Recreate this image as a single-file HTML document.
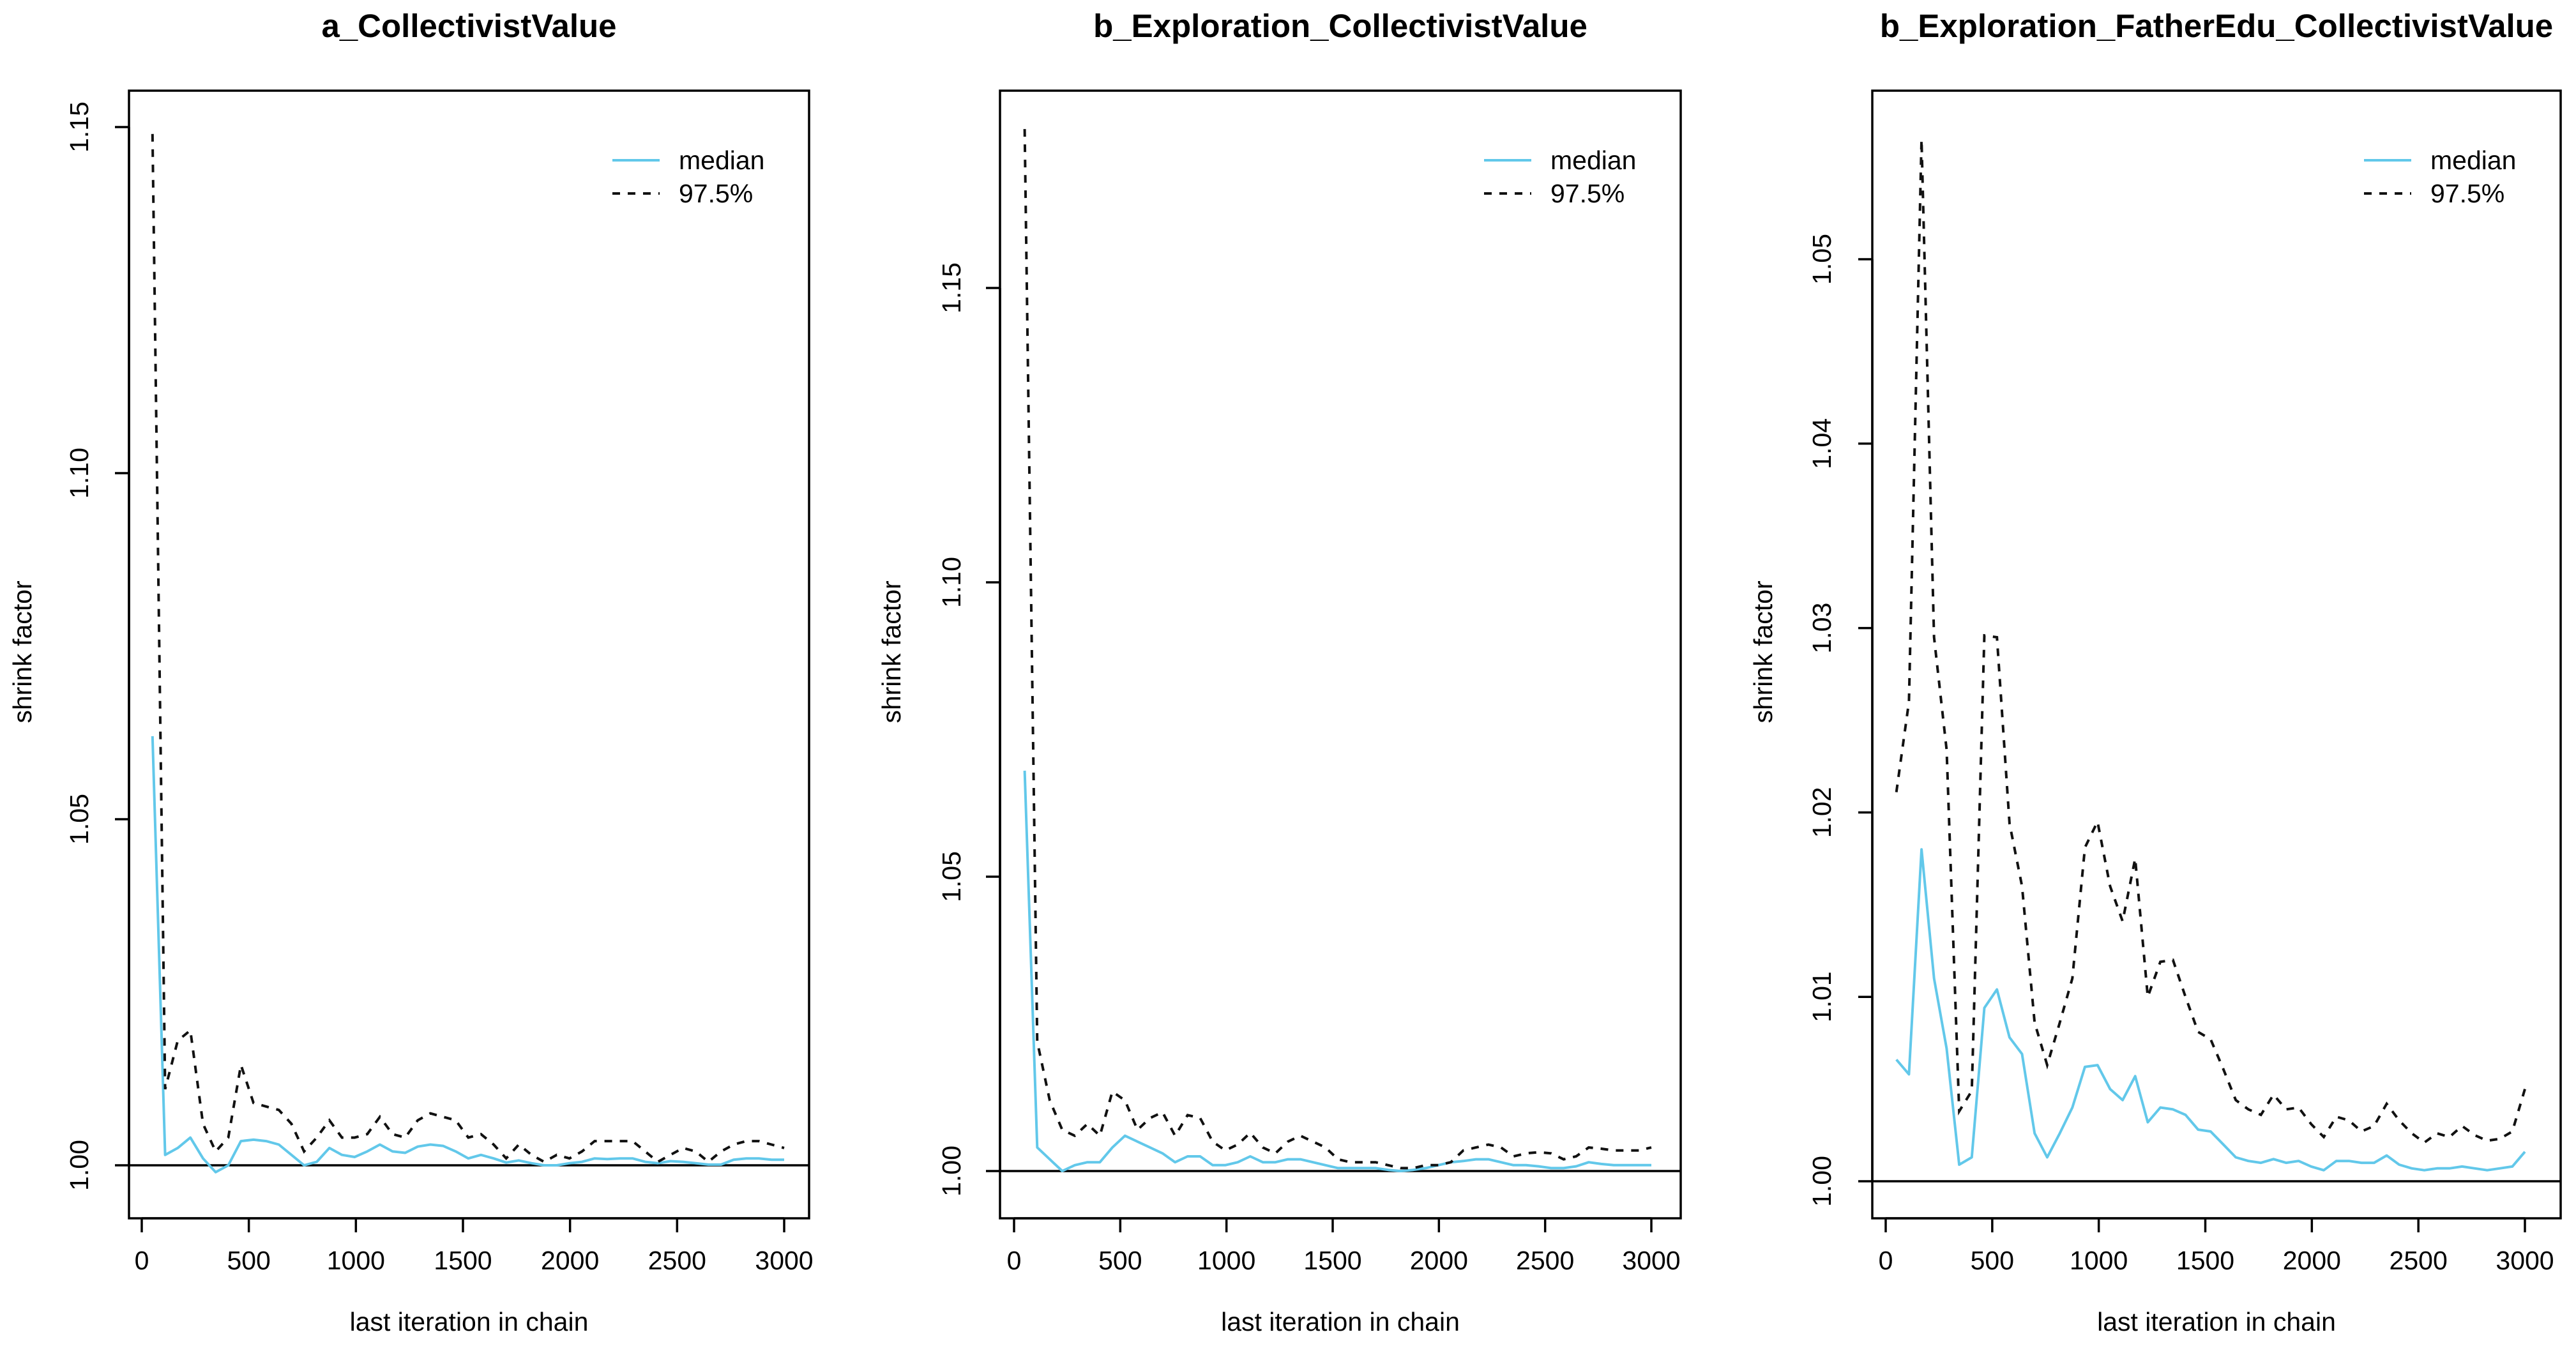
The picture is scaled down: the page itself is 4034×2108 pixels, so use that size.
<!DOCTYPE html>
<html><head><meta charset="utf-8"><style>
html,body{margin:0;padding:0;background:#fff;}
svg{display:block;font-family:"Liberation Sans",Arial,sans-serif;}
</style></head><body>
<svg id="fig" width="4034" height="2108" viewBox="0 0 4034 2108" xmlns="http://www.w3.org/2000/svg"></svg>
<script>
const iterations = [];
for (let i = 0; i <= 50; i++) iterations.push(50 + 59 * i);

const p1Median = [1.062,1.0015,1.0025,1.004,1.001,0.999,1.000,1.0035,1.0037,1.0035,1.003,1.0015,1.000,1.0005,1.0025,1.0015,1.0012,1.002,1.003,1.002,1.0018,1.0027,1.003,1.0028,1.002,1.001,1.0015,1.001,1.0004,1.0007,1.0003,1.0,1.0,1.0003,1.0005,1.001,1.0009,1.001,1.001,1.0005,1.0003,1.0006,1.0005,1.0003,1.0001,1.0001,1.0008,1.001,1.001,1.0008,1.0008];
const p1Upper = [1.149,1.011,1.018,1.0195,1.006,1.002,1.004,1.0145,1.009,1.0085,1.008,1.006,1.002,1.004,1.0065,1.004,1.004,1.0045,1.007,1.0045,1.004,1.0065,1.0075,1.007,1.0065,1.004,1.0045,1.003,1.001,1.003,1.0015,1.0005,1.0015,1.001,1.002,1.0035,1.0035,1.0035,1.0035,1.002,1.0005,1.0015,1.0025,1.002,1.0005,1.002,1.003,1.0035,1.0035,1.003,1.0025];
const p2Median = [1.068,1.004,1.002,1.000,1.001,1.0015,1.0015,1.004,1.006,1.005,1.004,1.003,1.0015,1.0025,1.0025,1.001,1.001,1.0015,1.0025,1.0015,1.0015,1.002,1.002,1.0015,1.001,1.0005,1.0005,1.0005,1.0005,1.0002,1.0,1.0002,1.0005,1.001,1.0015,1.0017,1.002,1.002,1.0015,1.001,1.001,1.0008,1.0005,1.0005,1.0008,1.0015,1.0012,1.001,1.001,1.001,1.001];
const p2Upper = [1.177,1.022,1.012,1.007,1.006,1.008,1.006,1.0135,1.012,1.007,1.009,1.010,1.006,1.0095,1.009,1.005,1.0035,1.0045,1.0065,1.004,1.003,1.005,1.006,1.005,1.004,1.002,1.0015,1.0015,1.0015,1.001,1.0005,1.0005,1.001,1.001,1.0015,1.0035,1.004,1.0045,1.004,1.0025,1.003,1.0032,1.003,1.002,1.0025,1.004,1.0038,1.0035,1.0035,1.0035,1.004];
const p3Median = [1.0066,1.0058,1.018,1.011,1.0072,1.0009,1.0013,1.0094,1.0104,1.0078,1.0069,1.0026,1.0013,1.0026,1.004,1.0062,1.0063,1.005,1.0044,1.0057,1.0032,1.004,1.0039,1.0036,1.0028,1.0027,1.002,1.0013,1.0011,1.001,1.0012,1.001,1.0011,1.0008,1.0006,1.0011,1.0011,1.001,1.001,1.0014,1.0009,1.0007,1.0006,1.0007,1.0007,1.0008,1.0007,1.0006,1.0007,1.0008,1.0016];
const p3Upper = [1.0211,1.026,1.0565,1.0295,1.0234,1.0038,1.0049,1.0296,1.0295,1.0194,1.016,1.0086,1.0063,1.0086,1.011,1.0181,1.0195,1.016,1.0141,1.0175,1.01,1.0119,1.012,1.01,1.0081,1.0077,1.0061,1.0044,1.0039,1.0036,1.0047,1.0039,1.004,1.0031,1.0024,1.0035,1.0033,1.0027,1.003,1.0042,1.0033,1.0026,1.0021,1.0026,1.0024,1.003,1.0025,1.0022,1.0023,1.0027,1.005];
const xTicks = [0,500,1000,1500,2000,2500,3000];
const p1YTicks = ["1.00","1.05","1.10","1.15"];
const p2YTicks = ["1.00","1.05","1.10","1.15"];
const p3YTicks = ["1.00","1.01","1.02","1.03","1.04","1.05"];

const NS = "http://www.w3.org/2000/svg";
const svg = document.getElementById("fig");
function mk(tag, attrs, parent) {
  const e = document.createElementNS(NS, tag);
  for (const k in attrs) e.setAttribute(k, attrs[k]);
  (parent || svg).appendChild(e);
  return e;
}

const panels = [
  {title:"a_CollectivistValue", box:[202,142,1267,1908], x0:222, x3000:1228, yBase:1825, yStep:0.05, yPx:542, yTicks:p1YTicks, ylabX:36, ytickX:124, med:p1Median, up:p1Upper},
  {title:"b_Exploration_CollectivistValue", box:[1566,142,2632,1908], x0:1588, x3000:2586, yBase:1834, yStep:0.05, yPx:461, yTicks:p2YTicks, ylabX:1397, ytickX:1490, med:p2Median, up:p2Upper},
  {title:"b_Exploration_FatherEdu_CollectivistValue", box:[2932,142,4010,1908], x0:2953, x3000:3954, yBase:1850, yStep:0.01, yPx:288.8, yTicks:p3YTicks, ylabX:2762, ytickX:2853, med:p3Median, up:p3Upper}
];

panels.forEach((p, pi) => {
  const g = mk("g", {});
  
  
  const [L, T, R, B] = p.box;
  const xs = v => p.x0 + (v / 3000) * (p.x3000 - p.x0);
  const ys = v => p.yBase - ((v - 1) / p.yStep) * p.yPx;

  const title = mk("text", {x:(L+R)/2, y:58, "text-anchor":"middle", "font-size":51, "font-weight":"bold", fill:"#000"}, g);
  title.textContent = p.title;
  
  

  const box = mk("rect", {x:L, y:T, width:R-L, height:B-T, fill:"none", stroke:"#000", "stroke-width":3.5}, g);
  
  

  const xaxis = mk("line", {x1:xs(0), x2:xs(3000), y1:B, y2:B, stroke:"#000", "stroke-width":3.5}, g);
  
  
  xTicks.forEach(t => {
    const tk = mk("line", {x1:xs(t), x2:xs(t), y1:B, y2:B+22, stroke:"#000", "stroke-width":3.5}, g);
    
    
    const tl = mk("text", {x:xs(t), y:1988, "text-anchor":"middle", "font-size":41, fill:"#000"}, g);
    tl.textContent = t;
    
    
  });
  const yvals = p.yTicks.map(Number);
  const yaxis = mk("line", {x1:L, x2:L, y1:ys(yvals[0]), y2:ys(yvals[yvals.length-1]), stroke:"#000", "stroke-width":3.5}, g);
  
  
  p.yTicks.forEach(t => {
    const y = ys(Number(t));
    const tk = mk("line", {x1:L-22, x2:L, y1:y, y2:y, stroke:"#000", "stroke-width":3.5}, g);
    
    
    const tl = mk("text", {x:p.ytickX, y:y, "text-anchor":"middle", "font-size":41, fill:"#000", transform:`rotate(-90 ${p.ytickX} ${y}) translate(0 14)`}, g);
    tl.textContent = t;
    
    
  });

  const xl = mk("text", {x:(L+R)/2, y:2084, "text-anchor":"middle", "font-size":41, fill:"#000"}, g);
  xl.textContent = "last iteration in chain";
  
  
  const yl = mk("text", {x:p.ylabX, y:1021, "text-anchor":"middle", "font-size":41, fill:"#000", transform:`rotate(-90 ${p.ylabX} 1021) translate(0 13)`}, g);
  yl.textContent = "shrink factor";
  
  

  const ref = mk("line", {x1:L, x2:R, y1:ys(1), y2:ys(1), stroke:"#000", "stroke-width":3.5}, g);
  
  

  const ptsM = iterations.map((it, i) => xs(it).toFixed(1) + "," + ys(p.med[i]).toFixed(1)).join(" ");
  const lm = mk("polyline", {points:ptsM, fill:"none", stroke:"#62c8ea", "stroke-width":4, "stroke-linejoin":"round"}, g);
  
  
  const ptsU = iterations.map((it, i) => xs(it).toFixed(1) + "," + ys(p.up[i]).toFixed(1)).join(" ");
  const lu = mk("polyline", {points:ptsU, fill:"none", stroke:"#111", "stroke-width":4, "stroke-dasharray":"12 12"}, g);
  
  

  const lg = mk("g", {}, g);
  
  
  const l1 = mk("line", {x1:R-308, x2:R-234, y1:251, y2:251, stroke:"#62c8ea", "stroke-width":4}, lg);
  
  
  const t1 = mk("text", {x:R-204, y:265, "font-size":41, fill:"#000"}, lg);
  t1.textContent = "median";
  
  
  const l2 = mk("line", {x1:R-308, x2:R-234, y1:303, y2:303, stroke:"#111", "stroke-width":4, "stroke-dasharray":"12 12"}, lg);
  
  
  const t2 = mk("text", {x:R-204, y:317, "font-size":41, fill:"#000"}, lg);
  t2.textContent = "97.5%";
  
  
});
</script>
</body></html>
